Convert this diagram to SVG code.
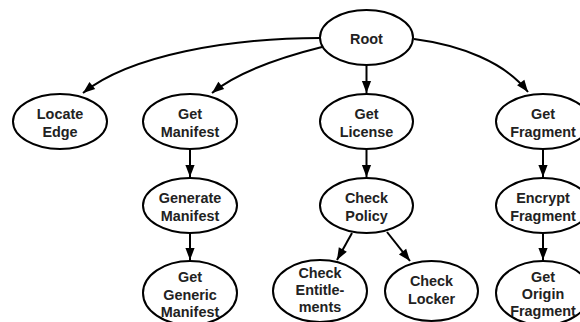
<svg xmlns="http://www.w3.org/2000/svg" width="580" height="322" viewBox="0 0 580 322">
  <defs>
    <marker id="arrow" markerUnits="userSpaceOnUse" markerWidth="14" markerHeight="12" viewBox="-13 -6 14 12" refX="0" refY="0" orient="auto">
      <path d="M0,0 L-12,-4.6 L-12,4.6 Z" fill="#000"/>
    </marker>
    <style>
      .node ellipse { fill: #fff; stroke: #000; stroke-width: 2; }
      .node text { font-family: "Liberation Sans", Arial, Helvetica, sans-serif; font-weight: bold; font-size: 14.4px; fill: #222; text-anchor: middle; }
      .edges path { fill: none; stroke: #000; stroke-width: 2; marker-end: url(#arrow); }
    </style>
  </defs>
  <rect width="580" height="322" fill="#fff"/>

  <g class="edges">
    <path d="M320,38 C230,38 130,55 83,93"/>
    <path d="M322,47 C290,55 240,70 212,93"/>
    <path d="M366.5,65 L366.5,93"/>
    <path d="M414,39 C460,45 505,62 528,92"/>
    <path d="M190,149 L190,177"/>
    <path d="M190,233 L190,260"/>
    <path d="M366.5,149 L366.5,177"/>
    <path d="M352,233 L337,260"/>
    <path d="M387,232 L410,261"/>
    <path d="M543,149 L543,177"/>
    <path d="M543,233 L543,260"/>
  </g>

  <g id="root" class="node">
    <ellipse cx="366.5" cy="37.5" rx="46.5" ry="27.5"/>
    <text x="366.5" y="44">Root</text>
  </g>
  <g id="locate-edge" class="node">
    <ellipse cx="60" cy="121.5" rx="47" ry="27.5"/>
    <text x="60" y="119">Locate</text>
    <text x="60" y="136.5">Edge</text>
  </g>
  <g id="get-manifest" class="node">
    <ellipse cx="190" cy="121.5" rx="47" ry="27.5"/>
    <text x="190" y="119">Get</text>
    <text x="190" y="136.5">Manifest</text>
  </g>
  <g id="get-license" class="node">
    <ellipse cx="366.5" cy="121.5" rx="46.5" ry="27.5"/>
    <text x="366.5" y="119">Get</text>
    <text x="366.5" y="136.5">License</text>
  </g>
  <g id="get-fragment" class="node">
    <ellipse cx="543" cy="121.5" rx="47" ry="27.5"/>
    <text x="543" y="119">Get</text>
    <text x="543" y="136.5">Fragment</text>
  </g>
  <g id="generate-manifest" class="node">
    <ellipse cx="190" cy="205.5" rx="47" ry="27.5"/>
    <text x="190" y="203">Generate</text>
    <text x="190" y="220.5">Manifest</text>
  </g>
  <g id="check-policy" class="node">
    <ellipse cx="366.5" cy="205.5" rx="46.5" ry="27.5"/>
    <text x="366.5" y="203">Check</text>
    <text x="366.5" y="220.5">Policy</text>
  </g>
  <g id="encrypt-fragment" class="node">
    <ellipse cx="543" cy="205.5" rx="47" ry="27.5"/>
    <text x="543" y="203">Encrypt</text>
    <text x="543" y="220.5">Fragment</text>
  </g>
  <g id="get-generic-manifest" class="node">
    <ellipse cx="190" cy="293" rx="47" ry="32"/>
    <text x="190" y="282">Get</text>
    <text x="190" y="299.5">Generic</text>
    <text x="190" y="317">Manifest</text>
  </g>
  <g id="check-entitlements" class="node">
    <ellipse cx="320" cy="291" rx="47" ry="31"/>
    <text x="320" y="278">Check</text>
    <text x="320" y="295">Entitle-</text>
    <text x="320" y="312">ments</text>
  </g>
  <g id="check-locker" class="node">
    <ellipse cx="431.5" cy="291" rx="46.5" ry="30"/>
    <text x="431.5" y="286">Check</text>
    <text x="431.5" y="303.5">Locker</text>
  </g>
  <g id="get-origin-fragment" class="node">
    <ellipse cx="543" cy="293" rx="47" ry="32"/>
    <text x="543" y="282">Get</text>
    <text x="543" y="299">Origin</text>
    <text x="543" y="316">Fragment</text>
  </g>
</svg>
